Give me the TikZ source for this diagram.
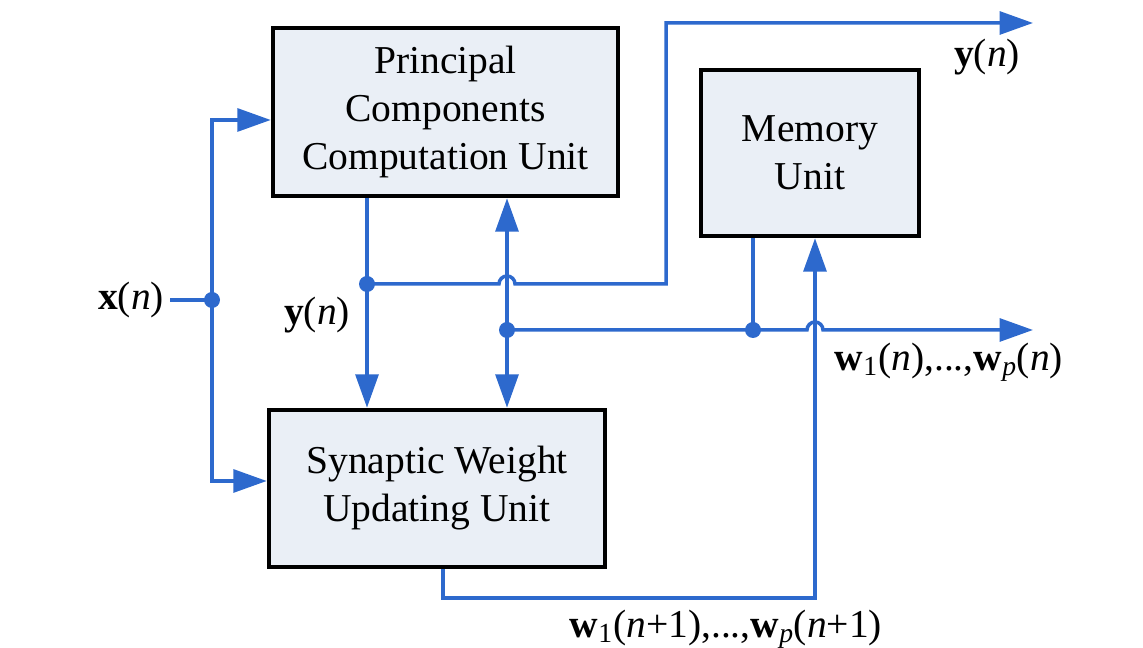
\documentclass[tikz,border=0pt]{standalone}
\usepackage{fontspec}
\setmainfont{Liberation Serif}
\usepackage{tikz}
\usetikzlibrary{arrows.meta}

\definecolor{wireblue}{RGB}{45,105,205}
\definecolor{boxfill}{RGB}{234,239,246}

\newcommand{\vb}[1]{\textbf{#1}}

\begin{document}
\begin{tikzpicture}[x=0.02cm,y=0.02cm,
    every node/.style={font=\fontsize{22.5}{27.3}\selectfont},
    unit/.style={draw=black,line width=2.6pt,fill=boxfill,align=center,inner sep=0pt},
    flow/.style={draw=wireblue,line width=2pt},
    >={Triangle[length=19pt,width=13pt]},
    dot/.style={circle,fill=wireblue,inner sep=0pt,minimum size=0.32cm}]
    \useasboundingbox (0,0) rectangle (1143,648);

    % units
    \node[unit,minimum width=6.9cm,minimum height=3.36cm] (pccu) at (445.5,536) {Principal\\Components\\Computation Unit};
    \node[unit,minimum width=4.36cm,minimum height=3.32cm] (mem) at (810,495) {Memory\\Unit};
    \node[unit,minimum width=6.72cm,minimum height=3.14cm] (swuu) at (437,159.5) {Synaptic Weight\\Updating Unit};

    % signal labels
    \node (xlab) at (131,348) {\vb{x}(\textit{n})};
    \node (ylab) at (317,333) {\vb{y}(\textit{n})};
    \node (yout) at (987,591) {\vb{y}(\textit{n})};
    \node (wlab) at (949,286) {\vb{w}\textsubscript{1}(\textit{n}),...,\vb{w}\textsubscript{\textit{p}}(\textit{n})};
    \node (wnext) at (726,19) {\vb{w}\textsubscript{1}(\textit{n}+1),...,\vb{w}\textsubscript{\textit{p}}(\textit{n}+1)};

    % junctions
    \node[dot] (xj) at (212,348) {};
    \node[dot] (yj) at (367,364) {};
    \node[dot] (wj) at (507,318) {};
    \node[dot] (mj) at (753,318) {};
    \coordinate (yend) at (1033,625);
    \coordinate (wend) at (1033,318);
    \coordinate (wback) at (443,50);
    \coordinate (wup) at (815,50);

    % input
    \draw[flow] (xlab.east) -- (xj.center);
    \draw[flow,->] (xj.center) |- ([yshift=-0.16cm]pccu.west);
    \draw[flow,->] (xj.center) |- ([yshift=0.15cm]swuu.west);

    % outputs of the pc unit
    \draw[flow] (yj |- pccu.south) -- (yj.center);
    \draw[flow,->] (yj.center) -- (yj |- swuu.north);
    \draw[flow,->] (yj.center) -- (499,364) arc[start angle=180,end angle=0,radius=0.16cm] -- (666,364) |- (yend);

    % weights
    \draw[flow,<->] (wj |- pccu.south) -- (wj |- swuu.north);
    \draw[flow,->] (wj.center) -- (807,318) arc[start angle=180,end angle=0,radius=0.16cm] -- (wend);
    \draw[flow] (mj |- mem.south) -- (mj.center);
    \draw[flow,->] (wback |- swuu.south) -- (wback) -- (wup) -- (wup |- mem.south);
\end{tikzpicture}
\end{document}
